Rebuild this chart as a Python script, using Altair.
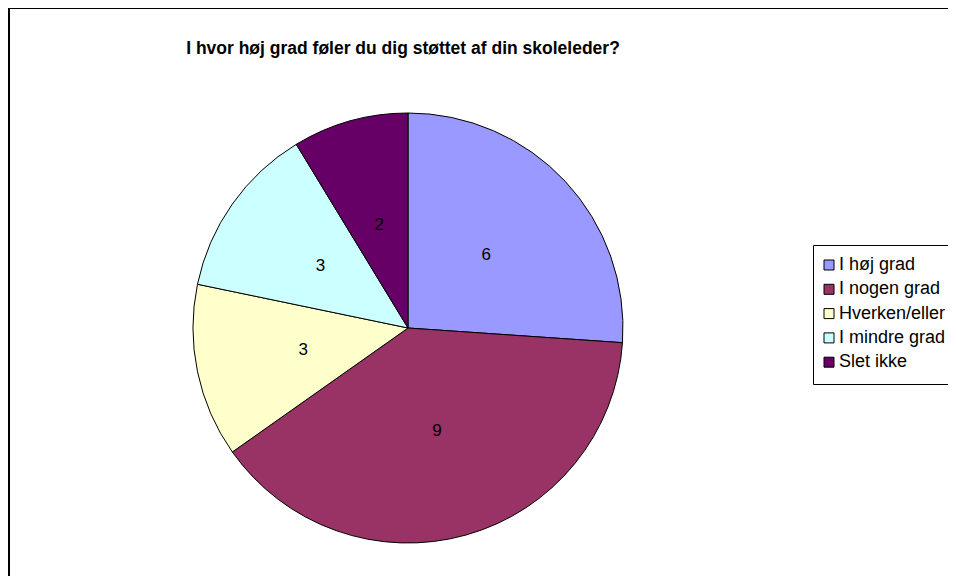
import altair as alt
import pandas as pd

title_text = "I hvor høj grad føler du dig støttet af din skoleleder?"
categories = ["I høj grad", "I nogen grad", "Hverken/eller", "I mindre grad", "Slet ikke"]
values = [6, 9, 3, 3, 2]
colors = ["#9999FF", "#993366", "#FFFFCC", "#CCFFFF", "#660066"]

df = pd.DataFrame({"kategori": categories, "antal": values, "rk": list(range(len(values)))})
one = pd.DataFrame({"t": [title_text]})

CX, CY, R = 400, 320, 215
FONT = "Liberation Sans"

color = alt.Color(
    "kategori:N",
    scale=alt.Scale(domain=categories, range=colors),
    sort=categories,
    legend=alt.Legend(
        title=None,
        orient="none",
        legendX=812,
        legendY=248,
        symbolType="square",
        symbolSize=100,
        symbolStrokeColor="black",
        symbolStrokeWidth=1,
        labelFont=FONT,
        labelFontSize=18,
        labelColor="black",
        labelOffset=1,
        rowPadding=6.3,
        padding=0,
    ),
)

base = alt.Chart(df).encode(
    theta=alt.Theta("antal:Q", stack=True),
    order=alt.Order("rk:Q", sort="ascending"),
)

pie = base.mark_arc(radius=R, stroke="black", strokeWidth=1).encode(
    color=color, x=alt.value(CX), y=alt.value(CY)
)

labels = base.mark_text(radius=107, font=FONT, fontSize=17, color="black").encode(
    text=alt.Text("antal:Q"), x=alt.value(CX), y=alt.value(CY)
)

title = alt.Chart(one).mark_text(
    font=FONT, fontSize=17.5, fontWeight="bold", color="black", baseline="middle",
    align="center",
).encode(text="t:N", x=alt.value(395), y=alt.value(41))

legend_box = alt.Chart(one).mark_rect(fill="white", stroke="black", strokeWidth=1).encode(
    x=alt.value(805.5), x2=alt.value(960), y=alt.value(237.5), y2=alt.value(376.5)
)

left_border = alt.Chart(one).mark_rule(color="black", strokeWidth=2).encode(
    x=alt.value(1), y=alt.value(0), y2=alt.value(568)
)
top_border = alt.Chart(one).mark_rule(color="black", strokeWidth=2).encode(
    y=alt.value(0), x=alt.value(0), x2=alt.value(940)
)

chart = alt.layer(legend_box, pie, labels, title, left_border, top_border).properties(
    width=940,
    height=568,
    padding=0,
    autosize=alt.AutoSizeParams(type="none"),
    background="white",
).configure_view(strokeWidth=0, stroke="transparent")

chart.save("out.html", embed_options={"renderer": "svg", "actions": False})
